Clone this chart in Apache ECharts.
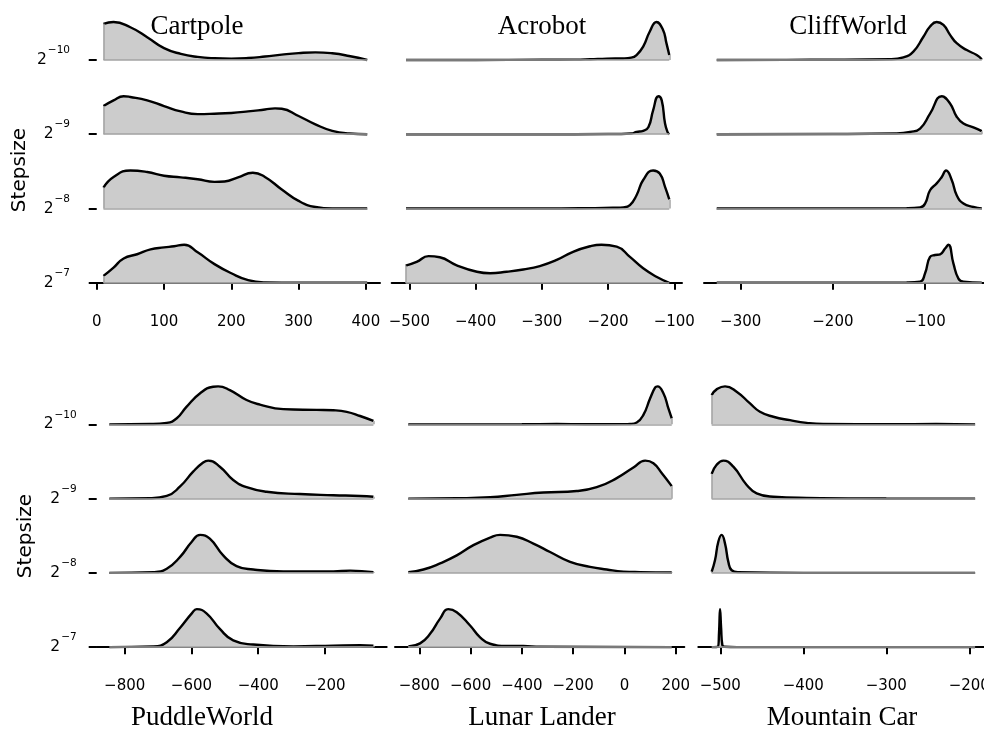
<!DOCTYPE html>
<html>
<head>
<meta charset="utf-8">
<script src="https://cdn.jsdelivr.net/npm/echarts@6/dist/echarts.min.js"></script>
<style>
html, body { margin: 0; padding: 0; background: #fff; }
#chart { width: 984px; height: 729px; }
</style>
</head>
<body>
<div id="chart"></div>
<script>
// stepsize exponents, top ridge to bottom ridge (2^-10 ... 2^-7)
const stepExp = ['10', '9', '8', '7'];

const topNames = ['Cartpole', 'Acrobot', 'CliffWorld'];
const bottomNames = ['PuddleWorld', 'Lunar Lander', 'Mountain Car'];

// x tick values of each panel
const cartpoleTicks = [0, 100, 200, 300, 400];
const acrobotTicks = [-500, -400, -300, -200, -100];
const cliffTicks = [-300, -200, -100];
const puddleTicks = [-800, -600, -400, -200];
const lunarTicks = [-800, -600, -400, -200, 0, 200];
const mcarTicks = [-500, -400, -300, -200];

// ridges: [return, density relative to the ridge peak], rows 2^-10 .. 2^-7
const cartpole = [
    [[10, 0.95], [25, 1.0], [50, 0.86], [75, 0.6], [100, 0.31], [125, 0.16], [150, 0.08], [175, 0.045], [200, 0.035], [225, 0.05], [250, 0.09], [275, 0.14], [300, 0.18], [325, 0.2], [350, 0.175], [375, 0.105], [402, 0]],
    [[10, 0.74], [25, 0.89], [40, 1.0], [50, 0.98], [75, 0.89], [100, 0.74], [125, 0.6], [150, 0.53], [175, 0.54], [200, 0.56], [225, 0.6], [250, 0.65], [265, 0.68], [275, 0.67], [300, 0.48], [325, 0.26], [350, 0.09], [375, 0.02], [402, 0]],
    [[10, 0.55], [25, 0.83], [50, 1.0], [75, 0.96], [100, 0.86], [125, 0.82], [150, 0.77], [175, 0.7], [190, 0.71], [210, 0.82], [232, 0.94], [250, 0.83], [275, 0.5], [300, 0.2], [325, 0.04], [350, 0], [402, 0]],
    [[10, 0.18], [25, 0.4], [40, 0.64], [60, 0.75], [80, 0.88], [100, 0.93], [115, 0.96], [130, 1.0], [150, 0.8], [175, 0.49], [200, 0.25], [225, 0.07], [250, 0.01], [300, 0], [402, 0]]
];
const acrobot = [
    [[-505, 0], [-400, 0], [-300, 0.005], [-250, 0.01], [-227, 0.02], [-202, 0.035], [-177, 0.04], [-165, 0.06], [-157, 0.13], [-147, 0.35], [-137, 0.75], [-127, 1.0], [-117, 0.79], [-112, 0.45], [-107.6, 0.13]],
    [[-505, 0], [-300, 0], [-200, 0.005], [-165, 0.02], [-157, 0.06], [-147, 0.09], [-139, 0.19], [-132, 0.63], [-124, 1.0], [-119, 0.89], [-114, 0.28], [-110, 0.05], [-107.6, 0]],
    [[-505, 0], [-300, 0], [-220, 0.01], [-190, 0.02], [-177, 0.03], [-167, 0.09], [-157, 0.35], [-147, 0.75], [-132, 1.0], [-122, 0.92], [-114, 0.57], [-107.6, 0.24]],
    [[-505.5, 0.45], [-489, 0.55], [-471, 0.7], [-454, 0.67], [-428.5, 0.46], [-398, 0.29], [-378, 0.25], [-353, 0.29], [-328, 0.35], [-303, 0.44], [-277.5, 0.6], [-252, 0.82], [-227, 0.96], [-210, 1.0], [-187, 0.95], [-167, 0.68], [-147, 0.38], [-127, 0.16], [-107.6, 0]]
];
const cliffworld = [
    [[-326, 0], [-250, 0.003], [-200, 0.005], [-138, 0.02], [-123.5, 0.07], [-112.7, 0.22], [-101.8, 0.61], [-94.6, 0.88], [-87.4, 1.0], [-80.1, 0.92], [-72.9, 0.66], [-65.7, 0.44], [-54.8, 0.26], [-44, 0.13], [-38.5, 0.02]],
    [[-326, 0], [-200, 0.005], [-130.8, 0.02], [-116.3, 0.06], [-105.4, 0.15], [-94.6, 0.54], [-81.9, 1.0], [-72.9, 0.81], [-65.7, 0.46], [-58.4, 0.28], [-47.6, 0.18], [-38.5, 0.08]],
    [[-326, 0], [-200, 0.003], [-120, 0.01], [-105.4, 0.03], [-100, 0.13], [-94.6, 0.48], [-87.4, 0.66], [-81.9, 0.83], [-77.2, 1.0], [-71.1, 0.75], [-65.7, 0.35], [-58.4, 0.13], [-47.6, 0.04], [-38.5, 0]],
    [[-326, 0], [-200, 0.003], [-120, 0.01], [-105.4, 0.03], [-100, 0.25], [-94.6, 0.68], [-89.2, 0.73], [-83.7, 0.75], [-78.3, 0.9], [-74.7, 1.0], [-69.3, 0.51], [-63.8, 0.11], [-58.4, 0.03], [-38.5, 0]]
];
const puddleworld = [
    [[-846, 0], [-724, 0.01], [-674, 0.04], [-644, 0.16], [-615, 0.46], [-574, 0.82], [-535, 0.99], [-520, 1.0], [-485, 0.9], [-435, 0.64], [-395, 0.52], [-325, 0.4], [-225, 0.38], [-175, 0.37], [-135, 0.33], [-95, 0.22], [-55, 0.09]],
    [[-846, 0], [-724, 0.01], [-674, 0.07], [-634, 0.32], [-595, 0.71], [-565, 0.95], [-550, 1.0], [-515, 0.84], [-475, 0.49], [-435, 0.3], [-375, 0.18], [-275, 0.12], [-175, 0.09], [-95, 0.07], [-55, 0.05]],
    [[-846, 0], [-714, 0.02], [-674, 0.11], [-634, 0.42], [-599, 0.82], [-574, 1.0], [-545, 0.9], [-505, 0.46], [-465, 0.18], [-415, 0.09], [-325, 0.04], [-175, 0.04], [-125, 0.06], [-55, 0.02]],
    [[-846, 0], [-714, 0.02], [-674, 0.13], [-634, 0.51], [-599, 0.89], [-584, 1.0], [-555, 0.89], [-515, 0.48], [-475, 0.18], [-415, 0.07], [-295, 0.02], [-175, 0.04], [-95, 0.05], [-55, 0.04]]
];
const lunarlander = [
    [[-843, 0], [-600, 0], [-400, 0.003], [-264, 0.008], [-150, 0.003], [0, 0.005], [22, 0.01], [48, 0.05], [74, 0.25], [100, 0.68], [120, 0.97], [129, 1.0], [152, 0.82], [171.5, 0.42], [184.5, 0.16]],
    [[-843, 0], [-654, 0.01], [-524, 0.035], [-420, 0.1], [-316, 0.16], [-186, 0.2], [-108, 0.3], [-30, 0.54], [35, 0.82], [81, 1.0], [113, 0.93], [146, 0.67], [184.5, 0.33]],
    [[-843, 0.02], [-784, 0.09], [-719, 0.25], [-654, 0.46], [-589, 0.73], [-524, 0.93], [-485, 1.0], [-420, 0.95], [-355, 0.77], [-290, 0.55], [-212, 0.29], [-134, 0.16], [-69, 0.09], [-4, 0.035], [61, 0.02], [184.5, 0.01]],
    [[-843, 0.02], [-797, 0.1], [-758, 0.35], [-719, 0.75], [-687, 1.0], [-654, 0.92], [-602, 0.57], [-563, 0.26], [-524, 0.09], [-459, 0.03], [-394, 0.03], [-329, 0.01], [184.5, 0]]
];
const mountaincar = [
    [[-510.4, 0.77], [-504.4, 0.92], [-494.3, 1.0], [-480.3, 0.86], [-464.2, 0.55], [-452.2, 0.33], [-436.1, 0.2], [-416, 0.11], [-396, 0.04], [-376, 0.01], [-295, 0.005], [-240, 0.008], [-193, 0]],
    [[-510.4, 0.65], [-504.4, 0.89], [-496.3, 1.0], [-484.3, 0.84], [-468.2, 0.36], [-456.2, 0.14], [-436.1, 0.05], [-396, 0.02], [-300, 0.005], [-193, 0]],
    [[-510.4, 0.03], [-506.4, 0.33], [-502.4, 0.82], [-498.4, 1.0], [-494.3, 0.77], [-490.3, 0.29], [-486.3, 0.07], [-478.3, 0.02], [-400, 0], [-193, 0]],
    [[-510.4, 0], [-503, 0.01], [-501.5, 0.4], [-500.3, 1.0], [-499, 0.5], [-497.5, 0.05], [-495, 0.01], [-480, 0], [-193, 0]]
];

const AMP = 0.512;   // ridge peak height in row units
const rowTop = [15.4, 379.8];
const rowHeight = 280;

// 面板布局
const panels = [
    { ridges: cartpole, ticks: cartpoleTicks, left: 90, width: 290, min: -10, max: 421, row: 0, yLabels: true },
    { ridges: acrobot, ticks: acrobotTicks, left: 391.7, width: 290.3, min: -526.6, max: -88.4, row: 0 },
    { ridges: cliffworld, ticks: cliffTicks, left: 704, width: 281, min: -339.8, max: -35, row: 0 },
    { ridges: puddleworld, ticks: puddleTicks, left: 96.7, width: 290, min: -883.8, max: -15.3, row: 1, yLabels: true },
    { ridges: lunarlander, ticks: lunarTicks, left: 395, width: 289.3, min: -894.8, max: 233.5, row: 1 },
    { ridges: mountaincar, ticks: mcarTicks, left: 698.3, width: 287.6, min: -526.5, max: -180, row: 1 }
];

const grid = [], xAxis = [], yAxis = [], series = [];

panels.forEach((p, i) => {
    grid.push({ left: p.left, top: rowTop[p.row], width: p.width, height: rowHeight, outerBoundsMode: 'none', containLabel: false });
    xAxis.push({
        type: 'value', gridIndex: i, min: p.min, max: p.max,
        axisLine: { show: true, lineStyle: { color: '#000', width: 2 } },
        axisTick: { show: true, customValues: p.ticks, length: 7, lineStyle: { color: '#000', width: 2 } },
        axisLabel: {
            customValues: p.ticks, margin: 19, color: '#000',
            fontFamily: 'DejaVu Sans', fontSize: 15,
            formatter: v => String(v).replace('-', '\u2212')
        },
        splitLine: { show: false }
    });
    yAxis.push({
        type: 'value', gridIndex: i, min: -0.17, max: 3.6,
        show: !!p.yLabels,
        axisLine: { show: false },
        axisTick: { show: true, customValues: [0, 1, 2, 3], length: 8, lineStyle: { color: '#000', width: 2 } },
        axisLabel: {
            customValues: [0, 1, 2, 3], margin: 20, verticalAlign: 'middle',
            formatter: v => '{b|2}{s|\u2212' + stepExp[3 - v] + '}',
            rich: {
                b: { fontFamily: 'DejaVu Sans', fontSize: 15.5, lineHeight: 36, color: '#000', verticalAlign: 'middle' },
                s: { fontFamily: 'DejaVu Sans', fontSize: 10.5, color: '#000', verticalAlign: 'top', padding: [3, 0, 0, 1] }
            }
        },
        splitLine: { show: false }
    });

    p.ridges.forEach((ridge, r) => {
        const level = 3 - r;
        const pts = ridge.map(d => [d[0], level + d[1] * AMP]);
        const first = pts[0], last = pts[pts.length - 1];
        const edges = [[{ coord: [first[0], level] }, { coord: [last[0], level] }]];
        if (first[1] - level > 0.004) edges.push([{ coord: [first[0], level] }, { coord: first }]);
        if (last[1] - level > 0.004) edges.push([{ coord: [last[0], level] }, { coord: last }]);
        // 填充
        series.push({
            type: 'line', xAxisIndex: i, yAxisIndex: i, data: pts, smooth: 0.5,
            symbol: 'none', silent: true, z: 1,
            lineStyle: { width: 0, opacity: 0 },
            areaStyle: { color: '#cccccc', opacity: 1, origin: level },
            markLine: {
                silent: true, symbol: ['none', 'none'], label: { show: false },
                lineStyle: { color: '#a3a3a3', width: 1.5, type: 'solid' },
                emphasis: { disabled: true },
                data: edges
            }
        });
        // 曲线
        series.push({
            type: 'line', xAxisIndex: i, yAxisIndex: i, data: pts, smooth: 0.5,
            symbol: 'none', silent: true, z: 3,
            lineStyle: { color: '#000', width: 2.4 }
        });
    });
});

const serif = '27px "Liberation Serif", serif';
const sans = '20px "DejaVu Sans", sans-serif';
const titleX = [197, 542, 848];
const bottomX = [202, 542, 842];
const graphic = [];
topNames.forEach((t, i) => graphic.push({ type: 'text', x: titleX[i], y: 27, style: { text: t, font: serif, fill: '#000', align: 'center', verticalAlign: 'middle' } }));
bottomNames.forEach((t, i) => graphic.push({ type: 'text', x: bottomX[i], y: 718, style: { text: t, font: serif, fill: '#000', align: 'center', verticalAlign: 'middle' } }));
graphic.push({ type: 'text', x: 20, y: 170, rotation: Math.PI / 2, style: { text: 'Stepsize', font: sans, fill: '#000', align: 'center', verticalAlign: 'middle' } });
graphic.push({ type: 'text', x: 26, y: 536, rotation: Math.PI / 2, style: { text: 'Stepsize', font: sans, fill: '#000', align: 'center', verticalAlign: 'middle' } });

const chart = echarts.init(document.getElementById('chart'));
chart.setOption({
    animation: false,
    backgroundColor: '#fff',
    grid: grid,
    xAxis: xAxis,
    yAxis: yAxis,
    series: series,
    graphic: graphic
});
</script>
</body>
</html>
